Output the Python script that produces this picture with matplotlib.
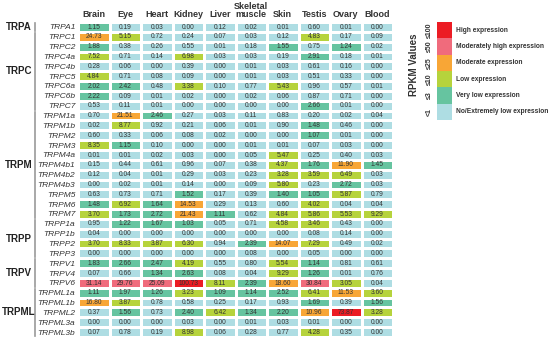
import numpy as np
import matplotlib
matplotlib.use("Agg")
import matplotlib.pyplot as plt
from matplotlib.colors import ListedColormap, BoundaryNorm

plt.rcParams['font.family'] = ['Liberation Sans', 'DejaVu Sans']

# tissues and genes
tissues = ["Brain", "Eye", "Heart", "Kidney", "Liver", "Skeletal\nmuscle",
           "Skin", "Testis", "Ovary", "Blood"]
genes = ["TRPA1",
         "TRPC1", "TRPC2", "TRPC4a", "TRPC4b", "TRPC5", "TRPC6a", "TRPC6b", "TRPC7",
         "TRPM1a", "TRPM1b", "TRPM2", "TRPM3", "TRPM4a", "TRPM4b1", "TRPM4b2",
         "TRPM4b3", "TRPM5", "TRPM6", "TRPM7",
         "TRPP1a", "TRPP1b", "TRPP2", "TRPP3",
         "TRPV1", "TRPV4", "TRPV6",
         "TRPML1a", "TRPML1b", "TRPML2", "TRPML3a", "TRPML3b"]
families = ["TRPA", "TRPC", "TRPM", "TRPP", "TRPV", "TRPML"]
family_sizes = [1, 8, 11, 4, 3, 5]

# RPKM values (rows = genes, columns = tissues)
rpkm = [
    [1.15, 0.19, 0.03, 0.00, 0.12, 0.02, 0.01, 0.60, 0.01, 0.00],
    [24.73, 5.15, 0.72, 0.24, 0.07, 0.03, 0.12, 4.83, 0.17, 0.09],
    [1.88, 0.38, 0.26, 0.55, 0.01, 0.18, 1.55, 0.75, 1.24, 0.02],
    [7.52, 0.71, 0.14, 6.98, 0.03, 0.03, 0.19, 2.91, 0.18, 0.01],
    [0.28, 0.06, 0.00, 0.39, 0.00, 0.01, 0.03, 0.61, 0.16, 0.00],
    [4.84, 0.71, 0.08, 0.09, 0.00, 0.01, 0.03, 0.51, 0.33, 0.00],
    [2.02, 2.42, 0.48, 3.38, 0.10, 0.77, 5.43, 0.96, 0.57, 0.01],
    [2.22, 0.09, 0.01, 0.02, 0.00, 0.02, 0.06, 0.87, 0.71, 0.00],
    [0.53, 0.11, 0.01, 0.00, 0.00, 0.00, 0.00, 2.66, 0.01, 0.00],
    [0.70, 21.51, 2.46, 0.27, 0.03, 0.11, 0.83, 0.20, 0.02, 0.04],
    [0.02, 8.77, 0.92, 0.21, 0.06, 0.01, 0.90, 1.48, 0.46, 0.00],
    [0.60, 0.33, 0.06, 0.08, 0.02, 0.00, 0.00, 1.07, 0.01, 0.00],
    [8.35, 1.15, 0.10, 0.00, 0.00, 0.01, 0.01, 0.07, 0.03, 0.00],
    [0.01, 0.01, 0.02, 0.03, 0.00, 0.05, 5.47, 0.25, 0.40, 0.03],
    [0.15, 0.44, 0.61, 0.96, 0.07, 0.38, 4.37, 1.76, 11.90, 1.45],
    [0.12, 0.04, 0.01, 0.29, 0.03, 0.23, 3.28, 3.59, 6.49, 0.03],
    [0.00, 0.02, 0.01, 0.14, 0.00, 0.09, 5.80, 0.23, 2.72, 0.03],
    [0.63, 0.73, 0.71, 1.52, 0.17, 0.39, 1.40, 1.05, 5.87, 0.79],
    [1.48, 6.92, 1.64, 14.53, 0.29, 0.13, 0.60, 4.02, 0.04, 0.04],
    [3.70, 1.73, 2.72, 21.43, 1.11, 0.62, 4.84, 5.86, 5.53, 9.29],
    [0.95, 1.22, 1.67, 1.03, 0.05, 0.71, 4.58, 3.46, 0.43, 0.00],
    [0.04, 0.00, 0.00, 0.00, 0.00, 0.00, 0.00, 0.08, 0.14, 0.00],
    [3.70, 8.33, 3.87, 6.30, 0.94, 2.39, 14.07, 7.29, 0.49, 0.02],
    [0.00, 0.00, 0.00, 0.00, 0.00, 0.08, 0.00, 0.05, 0.00, 0.00],
    [1.83, 2.66, 2.47, 4.19, 0.55, 0.80, 5.54, 1.14, 0.81, 0.61],
    [0.07, 0.66, 1.34, 2.63, 0.08, 0.04, 9.29, 1.26, 0.01, 0.76],
    [31.14, 29.76, 25.09, 100.73, 8.11, 2.39, 18.60, 30.84, 3.05, 0.04],
    [1.11, 1.97, 1.26, 3.23, 1.09, 1.14, 2.52, 6.41, 11.53, 3.60],
    [16.80, 3.87, 0.78, 0.58, 0.25, 0.17, 0.93, 1.69, 0.39, 1.56],
    [0.37, 1.56, 0.73, 2.40, 6.42, 1.34, 2.20, 10.96, 73.87, 3.28],
    [0.00, 0.00, 0.00, 0.03, 0.00, 0.01, 0.03, 0.01, 0.00, 0.00],
    [0.07, 0.78, 0.19, 8.98, 0.06, 0.28, 0.77, 4.28, 0.35, 0.00],
]

bounds = [0, 1, 3, 10, 25, 50, 1000]
colors = ["#aedde3", "#66c4a0", "#b6d33c", "#f8a636", "#f06b7c", "#ec1c24"]
legend_labels = ["No/Extremely low expression", "Very low expression", "Low expression",
                 "Moderate expression", "Moderately high expression", "High expression"]
legend_ticks = ["<1", "≤3", "≤10", "≤25", "≤50", "≤100"]

cmap = ListedColormap(colors)
norm = BoundaryNorm(bounds, cmap.N)
data = np.array(rpkm)

fig = plt.figure(figsize=(5.5, 3.39), dpi=100)
W, H = 550, 339

# main heatmap
ax = fig.add_axes([78 / W, 1 - 337 / H, 315 / W, 315 / H])
ax.pcolormesh(data, cmap=cmap, norm=norm, edgecolor="white", linewidth=0.8)
ax.set_xlim(0, len(tissues))
ax.set_ylim(len(genes), 0)
for i in range(len(genes)):
    for j in range(len(tissues)):
        ax.text(j + 0.5, i + 0.52, f"{data[i, j]:.2f}", ha="center", va="center",
                fontsize=4.8, color="#333333")
ax.xaxis.tick_top()
ax.set_xticks(np.arange(len(tissues)) + 0.5)
ax.set_xticklabels(tissues, fontsize=6.5, fontweight="bold", color="#333333",
                   linespacing=0.85)
ax.set_yticks(np.arange(len(genes)) + 0.5)
ax.set_yticklabels(genes, fontsize=6, fontstyle="italic", color="#333333")
ax.tick_params(length=0, pad=2)
for s in ax.spines.values():
    s.set_visible(False)

# family labels and brackets
start = 0
for fam, n in zip(families, family_sizes):
    ax.plot([-1.37, -1.37], [start + 0.1, start + n - 0.1], color="#999999",
            lw=1.2, clip_on=False)
    ax.text(-1.87, start + n / 2, fam, ha="center", va="center", fontsize=7,
            fontweight="bold", color="#222222")
    start += n

# legend
lax = fig.add_axes([437 / W, 1 - 120 / H, 15 / W, 98 / H])
lax.pcolormesh(np.arange(len(colors)).reshape(-1, 1), cmap=ListedColormap(colors))
lax.set_xlim(0, 1)
lax.set_ylim(0, len(colors))
lax.set_xticks([])
lax.set_yticks(np.arange(len(colors)) + 0.5)
lax.set_yticklabels(legend_ticks, rotation=90, va="center", fontsize=5,
                    fontweight="bold", color="#333333")
lax.tick_params(length=0, pad=3)
for s in lax.spines.values():
    s.set_visible(False)
for k, lab in enumerate(legend_labels):
    lax.text(1.25, k + 0.5, lab, ha="left", va="center", fontsize=4.8,
             fontweight="bold", color="#333333")
fig.text(414 / W, 1 - 65 / H, "RPKM Values", rotation=90, ha="center", va="center",
         fontsize=7, fontweight="bold", color="#333333")

fig.savefig("out.png", dpi=100)
